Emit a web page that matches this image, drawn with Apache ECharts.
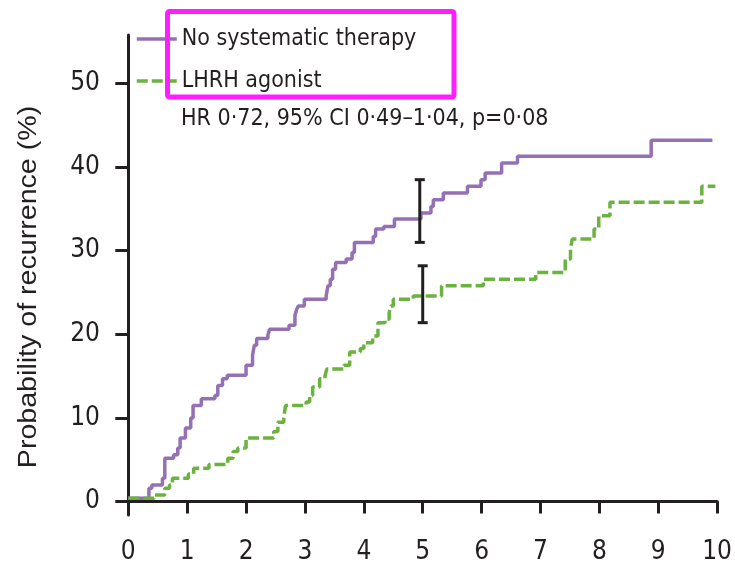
<!DOCTYPE html>
<html>
<head>
<meta charset="utf-8">
<script src="https://cdn.jsdelivr.net/npm/echarts@6.0.0/dist/echarts.min.js"></script>
<style>
  html, body { margin: 0; padding: 0; background: #ffffff; }
  #chart { width: 735px; height: 569px; }
</style>
</head>
<body>
<div id="chart"></div>
<script>
// Cumulative probability of recurrence (%) by year of follow-up
const noTherapyYears = [0, 0.35, 0.40, 0.58, 0.62, 0.77, 0.84, 0.88, 0.97, 1.06, 1.10, 1.24, 1.47, 1.52, 1.60, 1.68,
  2.00, 2.11, 2.14, 2.18, 2.37, 2.40, 2.73, 2.83, 2.86, 2.89, 2.99, 3.36, 3.39, 3.43, 3.47, 3.52, 3.70, 3.80, 3.84,
  4.16, 4.20, 4.34, 4.52, 4.97, 5.14, 5.18, 5.35, 5.76, 5.99, 6.06, 6.34, 6.61, 8.88, 9.92];
const noTherapyPct = [0.4, 1.6, 2.0, 2.8, 5.2, 5.6, 6.4, 7.6, 8.8, 10.0, 11.5, 12.3, 12.7, 13.9, 14.7, 15.1,
  16.3, 17.5, 18.7, 19.5, 19.9, 20.6, 21.1, 22.3, 23.0, 23.4, 24.2, 24.6, 25.8, 26.6, 27.8, 28.6, 29.0, 29.8, 31.0,
  31.7, 32.6, 32.9, 33.8, 34.5, 35.3, 36.1, 36.9, 37.7, 38.5, 39.3, 40.5, 41.3, 43.2, 43.2];

const lhrhYears = [0, 0.44, 0.62, 0.70, 0.75, 1.02, 1.11, 1.37, 1.69, 1.78, 1.86, 2.00, 2.47, 2.54, 2.64, 2.67,
  3.02, 3.08, 3.13, 3.25, 3.34, 3.37, 3.66, 3.76, 3.94, 4.00, 4.15, 4.24, 4.36, 4.43, 4.46, 4.50, 4.84, 5.32,
  6.03, 6.92, 7.42, 7.51, 7.54, 7.91, 7.99, 8.18, 9.74, 9.97];
const lhrhPct = [0.4, 0.8, 1.6, 2.0, 2.8, 3.3, 4.0, 4.45, 5.2, 6.0, 6.4, 7.6, 8.4, 9.5, 10.0, 11.5,
  11.9, 12.7, 13.7, 14.7, 15.0, 15.85, 16.3, 17.9, 18.3, 19.0, 19.8, 21.4, 21.8, 22.6, 23.4, 24.2, 24.6, 25.8,
  26.6, 27.4, 29.0, 30.2, 31.4, 32.6, 34.2, 35.8, 37.7, 37.7];

// 95% confidence intervals at 5 years
const ciYears = [4.95, 5.0];
const ciLow = [31.0, 21.4];
const ciHigh = [38.5, 28.2];

const xTicks = [0, 1, 2, 3, 4, 5, 6, 7, 8, 9, 10];
const yTicks = [0, 10, 20, 30, 40, 50];

const seriesNames = ['No systematic therapy', 'LHRH agonist'];
const statsText = 'HR 0·72, 95% CI 0·49–1·04, p=0·08';
const yTitle = 'Probability of recurrence (%)';

const ink = '#231f20';
const purple = '#9470b5';
const green = '#6cb23f';
const narrow = '"DejaVu Sans Condensed", "Liberation Sans Narrow", sans-serif';

const zip = (a, b) => a.map((v, i) => [v, b[i]]);

const chart = echarts.init(document.getElementById('chart'), null, { renderer: 'canvas' });

chart.setOption({
  animation: false,
  backgroundColor: '#ffffff',
  grid: { left: 118, right: 17, top: 35, bottom: 54, containLabel: false },
  legend: {
    orient: 'vertical',
    left: 135,
    top: 24,
    padding: 0,
    itemWidth: 40,
    itemHeight: 12,
    itemGap: 12,
    itemStyle: { opacity: 0 },
    lineStyle: { width: 3.5 },
    textStyle: { fontFamily: narrow, fontSize: 23, color: ink, lineHeight: 30 },
    data: seriesNames
  },
  xAxis: {
    type: 'value',
    min: -0.175,
    max: 10,
    splitLine: { show: false },
    axisLine: { show: true, lineStyle: { color: ink, width: 3 } },
    axisTick: { show: true, length: 12, lineStyle: { color: ink, width: 3 }, customValues: xTicks },
    axisLabel: { customValues: xTicks, margin: 24, fontFamily: narrow, fontSize: 26, color: ink }
  },
  yAxis: {
    type: 'value',
    min: -1.6,
    max: 55.8,
    splitLine: { show: false },
    axisLine: { show: true, lineStyle: { color: ink, width: 3 } },
    axisTick: { show: true, length: 13, lineStyle: { color: ink, width: 3 }, customValues: yTicks },
    axisLabel: { customValues: yTicks, margin: 18, fontFamily: narrow, fontSize: 26, color: ink }
  },
  graphic: [
    {
      type: 'rect',
      z: 100,
      shape: { x: 167.5, y: 11.5, width: 286.5, height: 85.5, r: 2 },
      style: { fill: 'none', stroke: '#ff1eff', lineWidth: 5 }
    },
    {
      type: 'text',
      x: 181,
      y: 119,
      style: { text: statsText, font: '23px ' + narrow, fill: ink, verticalAlign: 'middle' }
    },
    {
      type: 'text',
      x: 29,
      y: 287,
      rotation: Math.PI / 2,
      scaleX: 1.1,
      style: { text: yTitle, font: '26px "Liberation Sans", Arial, sans-serif', fill: ink, align: 'center', verticalAlign: 'middle' }
    }
  ],
  series: [
    {
      name: seriesNames[0],
      type: 'line',
      step: 'end',
      symbol: 'none',
      data: zip(noTherapyYears, noTherapyPct),
      lineStyle: { color: purple, width: 3.5 },
      itemStyle: { color: purple },
      z: 3
    },
    {
      name: seriesNames[1],
      type: 'line',
      step: 'end',
      symbol: 'none',
      data: zip(lhrhYears, lhrhPct),
      lineStyle: { color: green, width: 3.5, type: [11, 4] },
      itemStyle: { color: green },
      z: 3
    },
    {
      name: '95% CI',
      type: 'custom',
      z: 5,
      data: ciYears.map((t, i) => [t, ciLow[i], ciHigh[i]]),
      renderItem: function (params, api) {
        const lo = api.coord([api.value(0), api.value(1)]);
        const hi = api.coord([api.value(0), api.value(2)]);
        const cap = 5;
        const st = { stroke: ink, lineWidth: 3 };
        return {
          type: 'group',
          children: [
            { type: 'line', shape: { x1: lo[0], y1: lo[1], x2: hi[0], y2: hi[1] }, style: st },
            { type: 'line', shape: { x1: lo[0] - cap, y1: lo[1], x2: lo[0] + cap, y2: lo[1] }, style: st },
            { type: 'line', shape: { x1: hi[0] - cap, y1: hi[1], x2: hi[0] + cap, y2: hi[1] }, style: st }
          ]
        };
      }
    }
  ]
});
</script>
</body>
</html>
